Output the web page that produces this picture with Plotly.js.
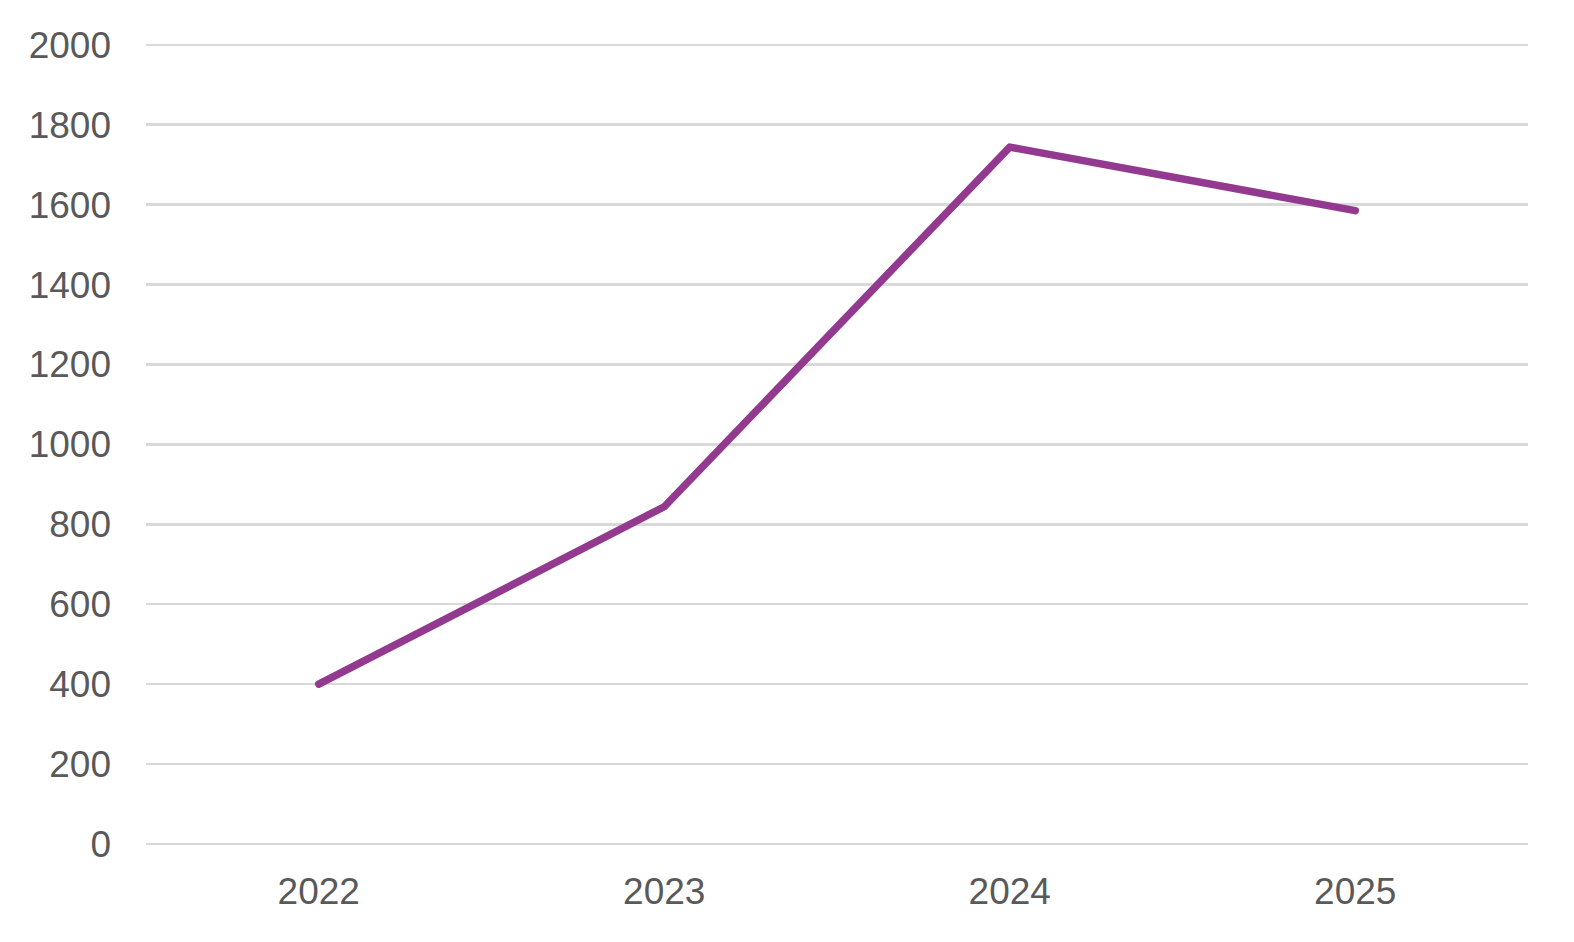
<!DOCTYPE html>
<html>
<head>
<meta charset="utf-8">
<script src="https://cdn.plot.ly/plotly-3.0.1.min.js"></script>
<style>
  html, body { margin: 0; padding: 0; background: #fff; }
  #chart { width: 1574px; height: 942px; }
  /* rounded ends and joints, like the original */
  #chart .scatterlayer .js-line { stroke-linecap: round !important; stroke-linejoin: round !important; }
</style>
</head>
<body>
<div id="chart"></div>
<script>
const years = ['2022', '2023', '2024', '2025'];
const values = [400, 844, 1744, 1585];
const yTicks = [0, 200, 400, 600, 800, 1000, 1200, 1400, 1600, 1800, 2000];
const yMax = 2000;

const TEXT = '#595959';
const GRID = '#d9d9d9';

Plotly.newPlot('chart', [{
  x: years, y: values,
  type: 'scatter', mode: 'lines',
  line: { color: '#93398f', width: 7.5 },
  hoverinfo: 'skip',
}], {
  width: 1574, height: 942,
  margin: { l: 146, r: 46, t: 44, b: 98 },
  paper_bgcolor: '#fff', plot_bgcolor: '#fff',
  showlegend: false,
  font: { family: '"Liberation Sans", Arial, sans-serif', size: 37, color: TEXT },
  xaxis: {
    type: 'category',
    range: [-0.5, 3.5],
    showgrid: false, zeroline: false, showline: false,
    ticks: '',
    ticklabelstandoff: 22,
    fixedrange: true,
  },
  yaxis: {
    range: [0, 2002],
    tickvals: yTicks,
    ticktext: yTicks.map(String),
    showgrid: true, gridcolor: GRID, gridwidth: 2.5,
    zeroline: true, zerolinecolor: GRID, zerolinewidth: 2.5,
    showline: false, ticks: '',
    ticklabelstandoff: 34,
    fixedrange: true,
  },
  // top gridline sits on the plot edge, plotly drops it, so draw it here
  shapes: [{
    type: 'line', layer: 'below',
    xref: 'paper', x0: 0, x1: 1,
    yref: 'y', y0: yMax, y1: yMax,
    line: { color: GRID, width: 2.5 },
  }],
}, { displayModeBar: false, staticPlot: true });
</script>
</body>
</html>
